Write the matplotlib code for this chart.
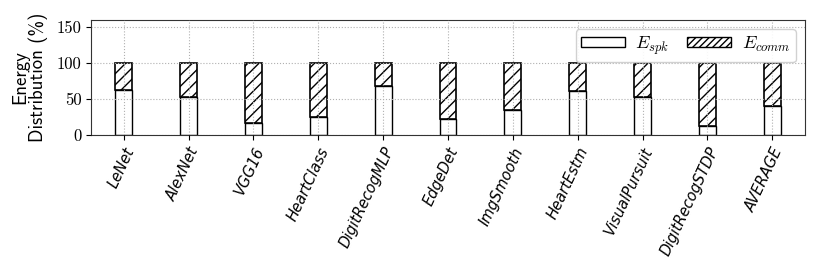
import matplotlib
matplotlib.use('Agg')
import matplotlib.pyplot as plt
import numpy as np
from matplotlib.patches import Patch

plt.rcParams['mathtext.fontset'] = 'cm'
plt.rcParams['hatch.linewidth'] = 1.0

benchmarks = ['LeNet', 'AlexNet', 'VGG16', 'HeartClass', 'DigitRecogMLP', 'EdgeDet',
              'ImgSmooth', 'HeartEstm', 'VisualPursuit', 'DigitRecogSTDP', 'AVERAGE']
e_spk = [62.5, 52.5, 17.0, 24.5, 68.0, 22.0, 35.5, 61.5, 53.5, 12.5, 40.5]
e_comm = [100 - v for v in e_spk]

def main():
    fig = plt.figure(figsize=(8.22, 2.74), dpi=100)
    ax = fig.add_axes([0.111, 0.507, 0.868, 0.42])

    x = np.arange(len(benchmarks))
    w = 0.26
    ax.bar(x, e_spk, w, color='white', edgecolor='black', linewidth=1.0, zorder=2)
    ax.bar(x, e_comm, w, bottom=e_spk, color='white', edgecolor='black',
           hatch='///', linewidth=1.2, zorder=2)

    ax.set_xlim(-0.5, len(benchmarks) - 0.5)
    ax.set_ylim(0, 160)
    ax.set_yticks([0, 50, 100, 150])
    ax.set_yticklabels(['0', '50', '100', '150'], family='cmr10', fontsize=12)
    ax.set_xticks(x)
    ax.set_xticklabels(benchmarks, rotation=65, ha='right', rotation_mode='anchor',
                       style='italic', fontsize=10.5)
    ax.set_ylabel('Energy\nDistribution (%)', family='cmss10', fontsize=13.5,
                  linespacing=1.0, labelpad=6)
    ax.grid(True, linestyle=':', color='#b0b0b0', linewidth=0.8, zorder=3)
    ax.set_axisbelow(False)
    for s in ax.spines.values():
        s.set_color('#333333')

    handles = [Patch(facecolor='white', edgecolor='black', label=r'$E_{spk}$'),
               Patch(facecolor='white', edgecolor='black', hatch='/////', label=r'$E_{comm}$')]
    ax.legend(handles=handles, loc='upper right', ncol=2, fontsize=13,
              handlelength=2.4, handleheight=0.5, handletextpad=0.6, columnspacing=1.0,
              borderpad=0.3, borderaxespad=0.5, framealpha=0.9)

    fig.savefig('out.png', dpi=100)

if __name__ == '__main__':
    main()
